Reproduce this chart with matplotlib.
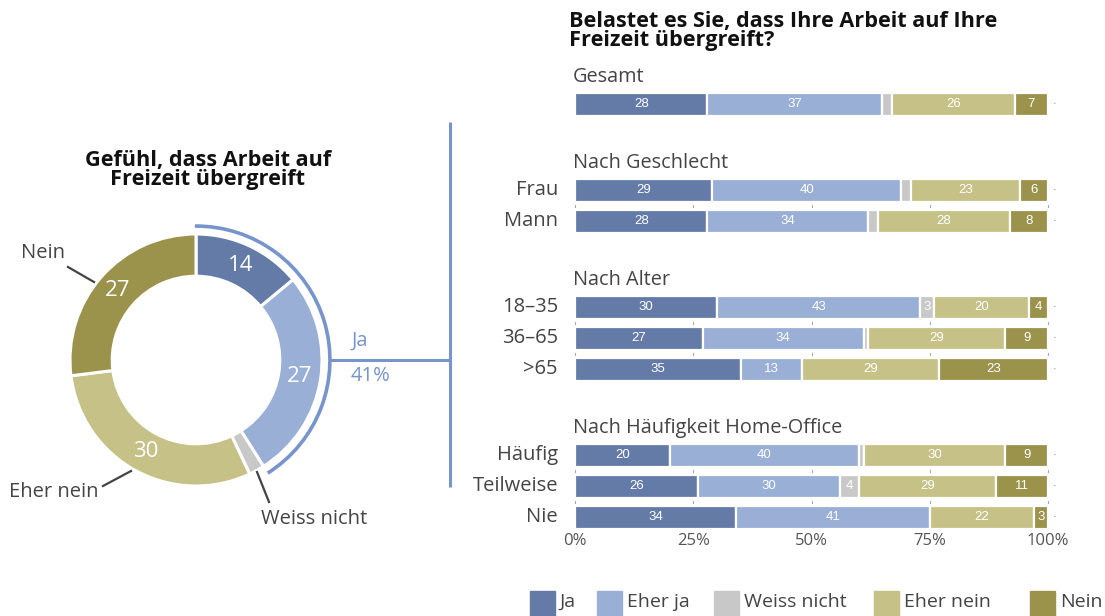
import matplotlib
matplotlib.use("Agg")
import matplotlib.pyplot as plt
import numpy as np
from matplotlib.patches import Rectangle, Arc

# ---------------- data ----------------
categories = ["Ja", "Eher ja", "Weiss nicht", "Eher nein", "Nein"]
colors = ["#647ba8", "#99afd6", "#c8c8c8", "#c6c186", "#9b924c"]

donut_values = [14, 27, 2, 30, 27]
donut_title = "Gefühl, dass Arbeit auf\nFreizeit übergreift"
ja_total = 41

groups = ["Gesamt", "Nach Geschlecht", "Nach Alter", "Nach Häufigkeit Home-Office"]
row_labels = [[""], ["Frau", "Mann"], ["18–35", "36–65", ">65"], ["Häufig", "Teilweise", "Nie"]]
ja          = [[28], [29, 28], [30, 27, 35], [20, 26, 34]]
eher_ja     = [[37], [40, 34], [43, 34, 13], [40, 30, 41]]
weiss_nicht = [[2],  [2, 2],   [3, 1, 0],    [1, 4, 0]]
eher_nein   = [[26], [23, 28], [20, 29, 29], [30, 29, 22]]
nein        = [[7],  [6, 8],   [4, 9, 23],   [9, 11, 3]]
bar_title = "Belastet es Sie, dass Ihre Arbeit auf Ihre\nFreizeit übergreift?"
xticks = [0, 25, 50, 75, 100]
xtick_labels = ["0%", "25%", "50%", "75%", "100%"]

# ---------------- figure ----------------
W, H = 1105, 616
fig = plt.figure(figsize=(W / 100, H / 100), dpi=100)
TXT = "#444444"
BLUE = "#7894cc"
FONT = ["Open Sans", "DejaVu Sans"]
BOLD = ["Open Sans", "DejaVu Sans"]
NUMFONT = ["Liberation Sans", "DejaVu Sans"]

def px_axes(x0, y0, w, h):
    # image pixel box (top-left origin) -> figure axes
    return fig.add_axes([x0 / W, 1 - (y0 + h) / H, w / W, h / H])

# overlay in pixel coordinates
ov = px_axes(0, 0, W, H)
ov.set_xlim(0, W)
ov.set_ylim(H, 0)
ov.axis("off")
ov.set_zorder(5)

# ---------------- donut ----------------
cx, cy, R = 196, 360, 126
half = 200
dax = px_axes(cx - half, cy - half, 2 * half, 2 * half)
wedges, _ = dax.pie(donut_values, colors=colors, startangle=90, counterclock=False,
                    radius=1.0, wedgeprops=dict(width=0.335, edgecolor="white", linewidth=2.2))
lim = half / R
dax.set_xlim(-lim, lim)
dax.set_ylim(-lim, lim)
dax.set_aspect("equal")
dax.axis("off")
angles = 90 - np.cumsum([0] + donut_values) * 3.6
for i, v in enumerate(donut_values):
    if v >= 5:
        mid = np.deg2rad((angles[i] + angles[i + 1]) / 2)
        dax.text(0.83 * np.cos(mid), 0.83 * np.sin(mid), str(v), color="white",
                 fontsize=16, ha="center", va="center", family=FONT)

# bracket arc for "Ja"
ja_end = 90 - (donut_values[0] + donut_values[1]) * 3.6
dax.add_patch(Arc((0, 0), 2 * 1.063, 2 * 1.063, theta1=ja_end, theta2=90.5,
                  color=BLUE, linewidth=2.6))
ov.plot([330, 450], [360, 360], color=BLUE, lw=2.2, solid_capstyle="butt")
ov.plot([450, 450], [122, 487], color=BLUE, lw=2.2, solid_capstyle="butt")
ov.text(352, 341, "Ja", color=BLUE, fontsize=14.5, ha="left", va="center", family=FONT)
ov.text(351, 376, f"{ja_total}%", color=BLUE, fontsize=14.5, ha="left", va="center", family=FONT)

ov.text(208, 170, donut_title, fontsize=15.6, fontweight="bold", ha="center", va="center",
        family=BOLD, color="#111111", linespacing=0.92)

# outer labels
ov.text(43, 253, "Nein", fontsize=14.5, ha="center", va="center", color=TXT, family=FONT)
ov.plot([68, 94], [267, 282], color=TXT, lw=1.6)
ov.text(54, 492, "Eher nein", fontsize=14.5, ha="center", va="center", color=TXT, family=FONT)
ov.plot([103, 131], [486, 471], color=TXT, lw=1.6)
ov.text(314, 519, "Weiss nicht", fontsize=14.5, ha="center", va="center", color=TXT, family=FONT)
ov.plot([257, 269], [472, 502], color=TXT, lw=1.6)

# ---------------- bars ----------------
bx0, bx1 = 575, 1048
top, bottom = 60, 530
bax = px_axes(bx0, top, bx1 - bx0, bottom - top)
bax.set_xlim(0, 100)
bax.set_ylim(bottom, top)
bax.axis("off")

row_step, group_gap = 31, 55
y = 104
row_y, header_y = [], []
for g, labels in enumerate(row_labels):
    header_y.append(y - 27)
    ys = []
    for _ in labels:
        ys.append(y)
        y += row_step
    row_y.append(ys)
    y += group_gap

bar_h = 23
series = [ja, eher_ja, weiss_nicht, eher_nein, nein]
for g, labels in enumerate(row_labels):
    for r, lab in enumerate(labels):
        yy = row_y[g][r]
        vals = [s[g][r] for s in series]
        left = 0
        for k, v in enumerate(vals):
            if v > 0:
                bax.barh(yy, v, left=left, height=bar_h, color=colors[k],
                         edgecolor="white", linewidth=1.6)
                if v >= 3:
                    bax.text(left + v / 2, yy, str(v), color="white", fontsize=9.5,
                             ha="center", va="center", family=NUMFONT)
            left += v
        bax.text(100.9, yy, "·", color="#777777", fontsize=8, ha="left", va="center",
                 clip_on=False)
        if lab:
            bax.text(-3.6, yy, lab, color=TXT, fontsize=14.5, ha="right", va="center",
                     family=FONT, clip_on=False)
        # faint tick marks between rows of a group
        if r < len(labels) - 1:
            for t in xticks:
                bax.plot([t, t], [yy + 14.5, yy + 17], color="#aaaaaa", lw=0.8,
                         clip_on=False)
    bax.text(-0.5, header_y[g], groups[g], color=TXT, fontsize=14.3, ha="left",
             va="center", family=FONT, clip_on=False)

for t, tl in zip(xticks, xtick_labels):
    bax.text(t, 541, tl, color="#555555", fontsize=12, ha="center", va="center",
             family=FONT, clip_on=False)

ov.text(569, 31, bar_title, fontsize=15.6, fontweight="bold", ha="left", va="center",
        family=BOLD, color="#111111", linespacing=0.92)

# ---------------- legend ----------------
leg_x = [530, 597, 714, 874, 1030]
for k, cat in enumerate(categories):
    ov.add_patch(Rectangle((leg_x[k], 591), 25, 25, color=colors[k], clip_on=False))
    ov.text(leg_x[k] + 30, 602, cat, fontsize=14, ha="left", va="center", color=TXT,
            family=FONT)

fig.savefig("out.png", dpi=100)
